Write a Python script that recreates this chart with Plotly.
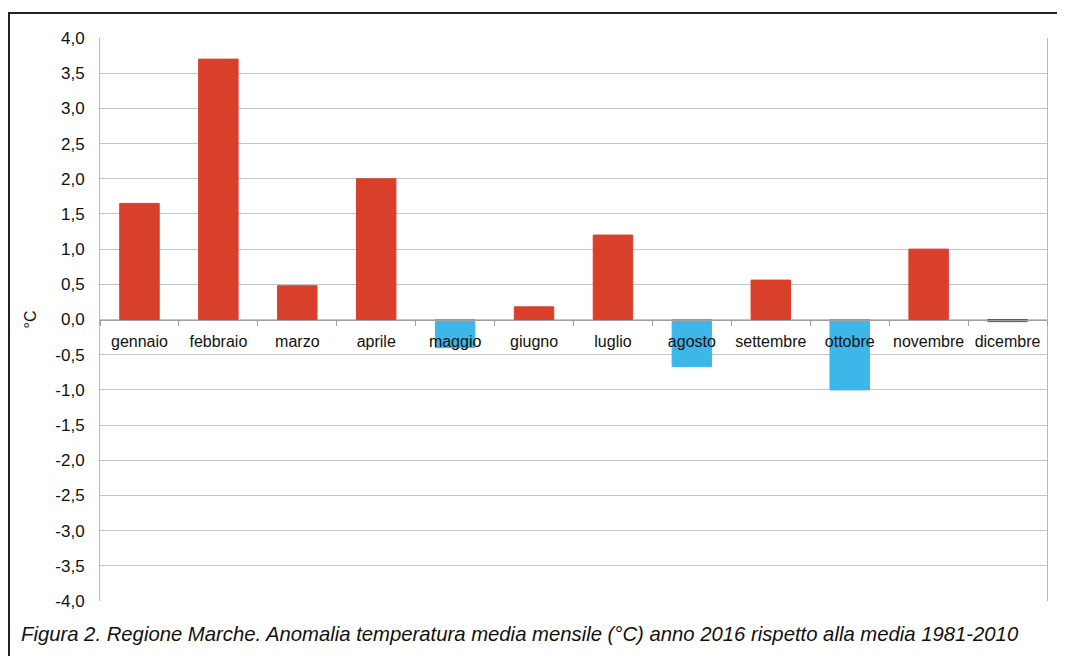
import plotly.graph_objects as go

months = ["gennaio", "febbraio", "marzo", "aprile", "maggio", "giugno",
          "luglio", "agosto", "settembre", "ottobre", "novembre", "dicembre"]
anomalies = [1.65, 3.7, 0.48, 2.0, -0.4, 0.18, 1.2, -0.67, 0.56, -1.0, 1.0, -0.03]
bar_colors = ["#d9402c", "#d9402c", "#d9402c", "#d9402c", "#3db6ea", "#d9402c",
              "#d9402c", "#3db6ea", "#d9402c", "#3db6ea", "#d9402c", "#d42a1e"]
y_ticks = [4.0, 3.5, 3.0, 2.5, 2.0, 1.5, 1.0, 0.5, 0.0, -0.5, -1.0, -1.5,
           -2.0, -2.5, -3.0, -3.5, -4.0]
y_ticktext = [("%.1f" % v).replace(".", ",") for v in y_ticks]
caption = ("Figura 2. Regione Marche. Anomalia temperatura media mensile (°C) "
           "anno 2016 rispetto alla media 1981-2010")

# page body has an 8px margin: shift everything up/left by 8px
OFF = 8
W, H = 1065 - OFF, 656 - OFF
L, R, T, B = 100 - OFF, 18, 38 - OFF, 55
pw, ph = W - L - R, H - T - B

def px_x(x):
    return (x - OFF - L) / pw

def px_y(y):
    return (H - B - (y - OFF)) / ph

fig = go.Figure(go.Bar(
    x=months, y=anomalies, width=0.5,
    marker=dict(color=bar_colors, line=dict(color=bar_colors, width=1)),
))

TXT = "#111111"
fig.update_layout(
    width=W, height=H,
    margin=dict(l=L, r=R, t=T, b=B, autoexpand=False),
    paper_bgcolor="white", plot_bgcolor="white",
    showlegend=False,
    font=dict(family="Liberation Sans, Arial, sans-serif", color=TXT),
    xaxis=dict(
        type="category",
        anchor="free", position=0.5,
        showline=True, linecolor="#a0a0a0", linewidth=1,
        ticks="outside", tickson="boundaries", ticklen=5, tickcolor="#a0a0a0",
        ticklabelstandoff=7, tickangle=0, automargin=False,
        tickfont=dict(size=16, color=TXT),
        showgrid=False, zeroline=False,
    ),
    yaxis=dict(
        range=[-4, 4], tickvals=y_ticks, ticktext=y_ticktext,
        showgrid=True, gridcolor="#c4c4c4", gridwidth=1,
        zeroline=False, automargin=False,
        showline=True, linecolor="#b8b8b8", linewidth=1, mirror=True,
        ticks="", ticklen=0, ticklabelstandoff=11,
        tickfont=dict(size=17, color=TXT),
        title=dict(text="°C", font=dict(size=16, color=TXT), standoff=14),
    ),
    shapes=[
        dict(type="line", xref="paper", yref="paper",
             x0=px_x(8), x1=px_x(1070), y0=px_y(13), y1=px_y(13),
             line=dict(color="#222222", width=2)),
        dict(type="line", xref="paper", yref="paper",
             x0=px_x(9), x1=px_x(9), y0=px_y(13), y1=px_y(670),
             line=dict(color="#222222", width=2)),
    ],
    annotations=[
        dict(text="<i>" + caption + "</i>", xref="paper", yref="paper",
             x=px_x(19), y=px_y(634), xanchor="left", yanchor="middle",
             showarrow=False,
             font=dict(size=20.3, color=TXT,
                       family="Liberation Sans, Arial, sans-serif")),
    ],
)

fig.write_html("out.html")
